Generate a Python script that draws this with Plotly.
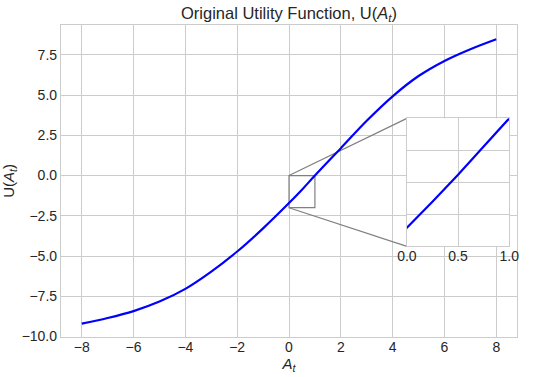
import plotly.graph_objects as go

# ---- data ----
A_VALUES = [-8, -7, -6, -5, -4, -3, -2, -1, 0, 0.5, 1, 2, 3, 4, 5, 6, 7, 8]
U_VALUES = [-9.2, -8.85, -8.42, -7.83, -7.04, -5.97, -4.72, -3.28, -1.71, -0.88,
            0.0, 1.7, 3.4, 4.92, 6.18, 7.12, 7.85, 8.47]
X_TICKS = [-8, -6, -4, -2, 0, 2, 4, 6, 8]
Y_TICKS = [-10.0, -7.5, -5.0, -2.5, 0.0, 2.5, 5.0, 7.5]
INSET_X_TICKS = [0.0, 0.5, 1.0]
INSET_Y_TICKS = [-2.0, -1.5, -1.0, -0.5, 0.0]

# ---- layout constants ----
XR = [-8.8, 8.8]
YR = [-10.03, 9.35]
ZOOM_X = [0.0, 1.0]
ZOOM_Y = [-2.0, 0.0]
INSET_X = [4.55, 8.5]     # inset position, in main data units
INSET_Y = [-4.4, 3.55]

FONT = "Liberation Sans, Arial, sans-serif"
GRID = "#cccccc"
TXT = "#262626"

fx = [(v - XR[0]) / (XR[1] - XR[0]) for v in INSET_X]
fy = [(v - YR[0]) / (YR[1] - YR[0]) for v in INSET_Y]

fig = go.Figure()

# connector lines (mark_inset)
fig.add_trace(go.Scatter(
    x=[ZOOM_X[0], INSET_X[0], None, ZOOM_X[0], INSET_X[0]],
    y=[ZOOM_Y[1], INSET_Y[1], None, ZOOM_Y[0], INSET_Y[0]],
    mode="lines", line=dict(color="#808080", width=1.2),
    hoverinfo="skip", showlegend=False, xaxis="x", yaxis="y"))

# main curve
fig.add_trace(go.Scatter(
    x=A_VALUES, y=U_VALUES, mode="lines",
    line=dict(color="#0000ff", width=2.2, shape="spline", smoothing=1.0),
    showlegend=False, xaxis="x", yaxis="y"))

# inset curve
fig.add_trace(go.Scatter(
    x=A_VALUES, y=U_VALUES, mode="lines",
    line=dict(color="#0000ff", width=2.2, shape="spline", smoothing=1.0),
    showlegend=False, xaxis="x2", yaxis="y2"))

# zoom rectangle
fig.add_shape(type="rect", xref="x", yref="y",
              x0=ZOOM_X[0], x1=ZOOM_X[1], y0=ZOOM_Y[0], y1=ZOOM_Y[1],
              line=dict(color="#808080", width=1.2), layer="between")

axis_common = dict(showgrid=True, gridcolor=GRID, gridwidth=1,
                   showline=True, linecolor=GRID, linewidth=1.25, mirror=True,
                   zeroline=False, ticks="", automargin=False)
TICKFONT = dict(family=FONT, size=14, color=TXT)

fig.update_layout(
    width=550, height=377,
    margin=dict(l=61, r=33, t=25, b=40),
    paper_bgcolor="white", plot_bgcolor="white",
    font=dict(family=FONT, color=TXT),
    title=dict(text="Original Utility Function, U(<i>A<sub>t</sub></i>)",
               x=0.5, xanchor="center", xref="paper",
               y=1 - 13 / 377, yref="container", yanchor="middle",
               font=dict(family=FONT, size=16.5, color=TXT)),
    xaxis=dict(range=XR, domain=[0, 1], tickvals=X_TICKS, tickfont=TICKFONT,
               ticklabelstandoff=-3,
               title=dict(text="<i>A<sub>t</sub></i>", standoff=4,
                          font=dict(family=FONT, size=15, color=TXT)),
               **axis_common),
    yaxis=dict(range=YR, domain=[0, 1], tickvals=Y_TICKS, tickformat=".1f",
               tickfont=TICKFONT,
               title=dict(text="U(<i>A<sub>t</sub></i>)", standoff=3,
                          font=dict(family=FONT, size=15, color=TXT)),
               **axis_common),
    xaxis2=dict(range=ZOOM_X, domain=fx, anchor="y2", tickvals=INSET_X_TICKS,
                tickformat=".1f", tickfont=TICKFONT, ticklabelstandoff=-3,
                **axis_common),
    yaxis2=dict(range=ZOOM_Y, domain=fy, anchor="x2", tickvals=INSET_Y_TICKS,
                showticklabels=False, **axis_common),
)

fig.write_html("out.html", config={"displayModeBar": False},
               post_script="document.body.style.margin='0';document.body.style.padding='0';")
